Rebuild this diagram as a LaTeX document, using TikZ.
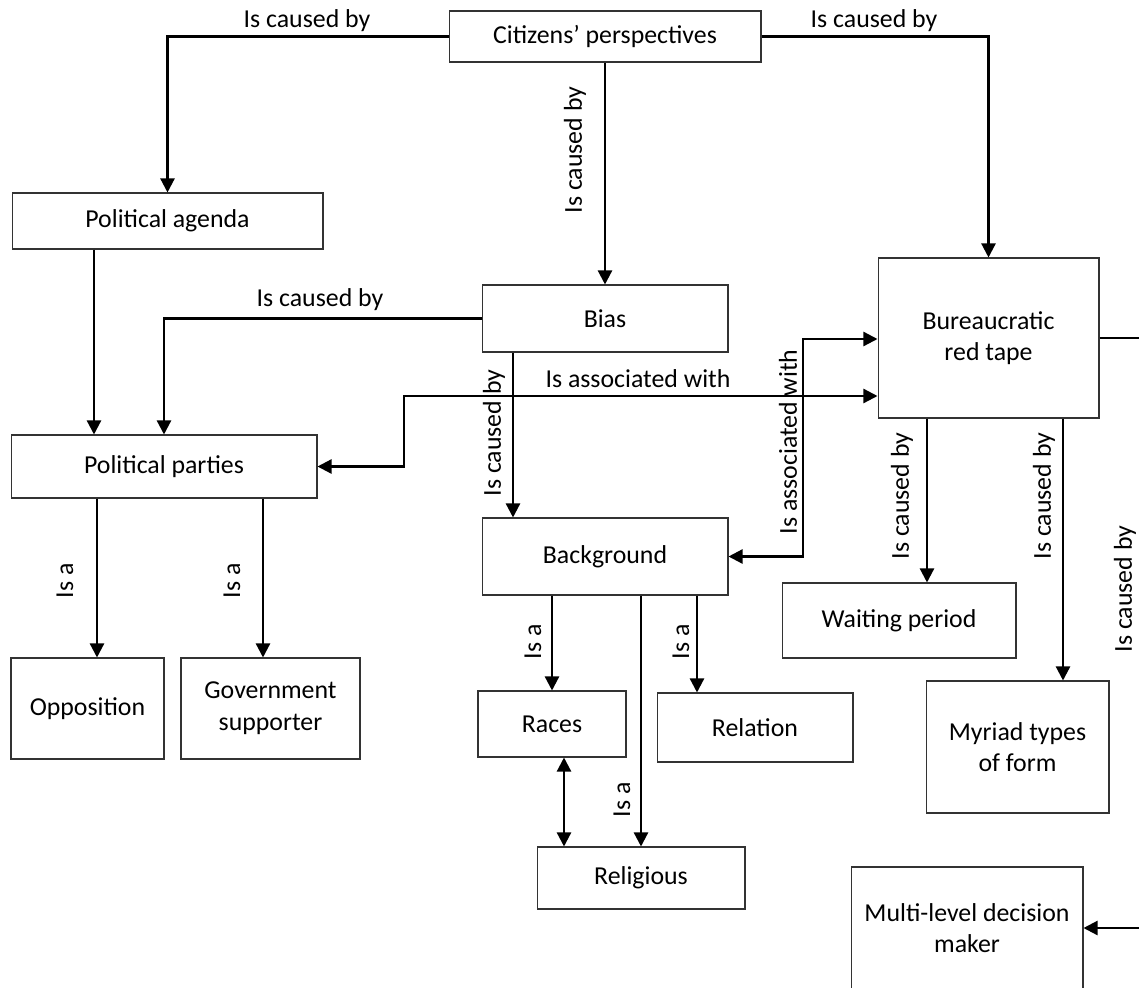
\documentclass[tikz,border=0pt]{standalone}
\usepackage{fontspec}
\setmainfont{Carlito}
\usetikzlibrary{arrows.meta}

\tikzset{
	box/.style={draw=black!80, line width=0.6pt, align=center, inner sep=2pt},
	arr/.style={line width=1.3pt, -{Triangle[length=8pt,width=8pt]}},
	dblarr/.style={line width=1.3pt, {Triangle[length=8pt,width=8pt]}-{Triangle[length=8pt,width=8pt]}},
	lbl/.style={inner sep=0pt},
}

\begin{document}
\begin{tikzpicture}[x=0.02cm, y=-0.02cm, font=\fontsize{14.7}{18}\selectfont]
		\useasboundingbox (0,0) rectangle (1139,987);
		
		\node[box, minimum width=6.24cm, minimum height=1.02cm] (cit) at (605,36.5) {Citizens’ perspectives};
		\node[box, minimum width=6.22cm, minimum height=1.12cm] (agenda) at (167.5,221) {Political agenda};
		\node[box, minimum width=6.12cm, minimum height=1.26cm] (parties) at (164,466.5) {Political parties};
		\node[box, minimum width=4.92cm, minimum height=1.34cm] (bias) at (605,318.5) {Bias};
		\node[box, minimum width=4.92cm, minimum height=1.54cm] (backgr) at (605,556.5) {Background};
		\node[box, minimum width=4.42cm, minimum height=3.2cm] (redtape) at (988.5,338) {Bureaucratic\\red tape};
		\node[box, minimum width=3.06cm, minimum height=2.02cm] (oppos) at (87.5,708.5) {Opposition};
		\node[box, minimum width=3.58cm, minimum height=2.02cm] (govsup) at (270.5,708.5) {Government\\supporter};
		\node[box, minimum width=2.96cm, minimum height=1.32cm] (races) at (552,724) {Races};
		\node[box, minimum width=3.92cm, minimum height=1.38cm] (relation) at (755,727.5) {Relation};
		\node[box, minimum width=4.16cm, minimum height=1.24cm] (religious) at (641,878) {Religious};
		\node[box, minimum width=4.68cm, minimum height=1.5cm] (waiting) at (899,620.5) {Waiting period};
		\node[box, minimum width=3.66cm, minimum height=2.64cm] (myriad) at (1017.5,747) {Myriad types\\of form};
		\node[box, minimum width=4.64cm, minimum height=2.44cm] (multi) at (967,928) {Multi-level decision\\maker};
		
		\coordinate (assocbend1) at (404,396);
		\coordinate (assocbend2) at (803,339);
		\coordinate (offright) at (1165,338);
		
		% from the top box
		\draw[arr] (cit.west) -| (agenda.north);
		\draw[arr] (cit.east) -| (redtape.north);
		\draw[arr] (cit.south) -- (bias.north);
		\draw[arr] (bias.west) -| (parties.north);
		\draw[arr] (agenda.south -| 94,0) -- (parties.north -| 94,0);
		\draw[arr] (bias.south -| 513,0) -- (backgr.north -| 513,0);
		
		\draw[dblarr] (parties.east) -| (assocbend1) -- (redtape.west |- assocbend1);
		\draw[dblarr] (backgr.east) -| (assocbend2) -- (redtape.west |- assocbend2);
		
		\draw[arr] (parties.south -| 97,0) -- (oppos.north -| 97,0);
		\draw[arr] (parties.south -| 263,0) -- (govsup.north -| 263,0);
		\draw[arr] (backgr.south -| races.north) -- (races.north);
		\draw[arr] (backgr.south -| 697,0) -- (relation.north -| 697,0);
		\draw[arr] (backgr.south -| religious.north) -- (religious.north);
		\draw[dblarr] (races.south -| 564,0) -- (religious.north -| 564,0);
		
		\draw[arr] (redtape.south -| 927,0) -- (waiting.north -| 927,0);
		\draw[arr] (redtape.south -| 1063,0) -- (myriad.north -| 1063,0);
		\draw[arr] (redtape.east) -- (offright) |- (multi.east);
		
		% labels
		\node[lbl] (lcitagenda) at (307,21) {Is caused by};
		\node[lbl] (lcitred) at (874,21) {Is caused by};
		\node[lbl, rotate=90] (lcitbias) at (575,150) {Is caused by};
		\node[lbl] (lbiasparties) at (320,300) {Is caused by};
		\node[lbl, rotate=90] (lbiasbackgr) at (494,433) {Is caused by};
		\node[lbl] (lassoc1) at (638,379) {Is associated with};
		\node[lbl, rotate=90] (lassoc2) at (788,442) {Is associated with};
		\node[lbl, rotate=90] (lredwait) at (902,496) {Is caused by};
		\node[lbl, rotate=90] (lredmyriad) at (1044,496) {Is caused by};
		\node[lbl, rotate=90] (lredmulti) at (1125,589) {Is caused by};
		\node[lbl, rotate=90] (loppos) at (65,581) {Is a};
		\node[lbl, rotate=90] (lgovsup) at (232,581) {Is a};
		\node[lbl, rotate=90] (lraces) at (533,642) {Is a};
		\node[lbl, rotate=90] (lrelation) at (681,642) {Is a};
		\node[lbl, rotate=90] (lreligious) at (622,800) {Is a};
	\end{tikzpicture}
\end{document}
